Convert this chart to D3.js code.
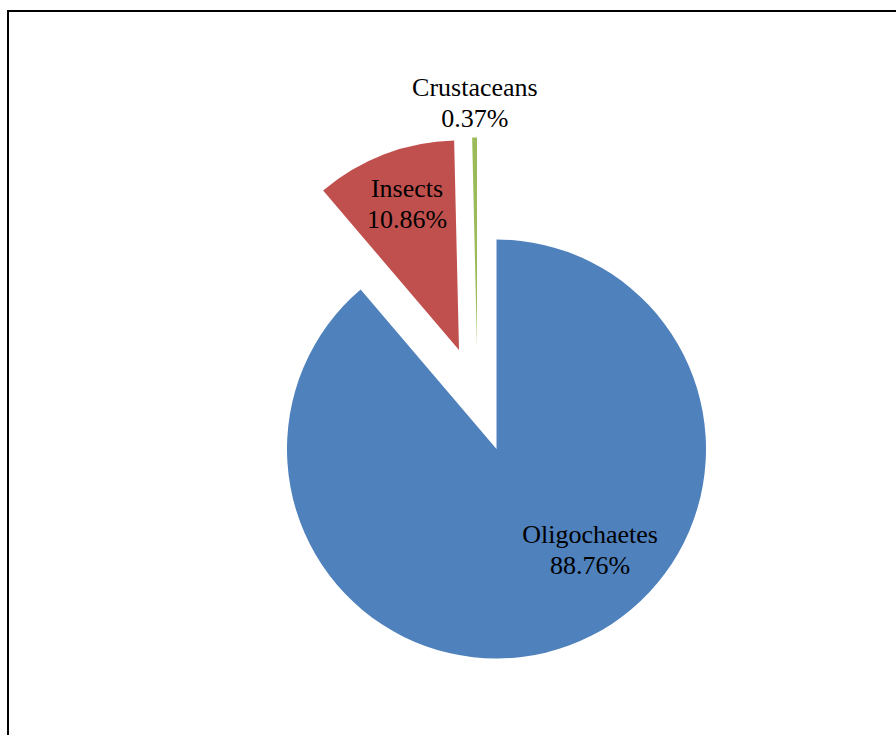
<!DOCTYPE html>
<html>
<head>
<meta charset="utf-8">
<script src="https://cdn.jsdelivr.net/npm/d3@7"></script>
<style>
  html, body { margin: 0; padding: 0; background: #fff; }
  svg { display: block; }
</style>
</head>
<body>
<script>
// ---- data ----
const categories = ["Oligochaetes", "Insects", "Crustaceans"];
const values = [88.76, 10.86, 0.37];
const percentLabels = ["88.76%", "10.86%", "0.37%"];

// ---- styles / layout ----
const colors = ["#4F81BD", "#C0504D", "#9BBB59"];
const W = 896, H = 735;
const cx = 496.5, cy = 449, R = 209.5;
// explode offsets (px) for each slice
const explodeOffsets = [[0, 0], [-37.5, -99], [-19.5, -102]];
// label placement (angle in degrees clockwise from 12 o'clock, radius as fraction of R), relative to slice apex
const labelPolar = [[137, 0.655], [340.4, 0.74], [359.5, 1.165]];
const fontSize = 26, lineGap = 31;

const svg = d3.select("body").append("svg")
  .attr("width", W).attr("height", H);

svg.append("rect").attr("width", W).attr("height", H).attr("fill", "#fff");

// chart border (extends past right/bottom edges)
svg.append("rect")
  .attr("x", 8).attr("y", 11)
  .attr("width", W + 20).attr("height", H + 20)
  .attr("fill", "none").attr("stroke", "#000").attr("stroke-width", 2);

const pie = d3.pie().sort(null).value(d => d)
  .startAngle(0).endAngle(2 * Math.PI);
const arcs = pie(values);
const arc = d3.arc().innerRadius(0).outerRadius(R);

const g = svg.append("g").attr("transform", `translate(${cx},${cy})`);

const slices = g.selectAll("g.slice").data(arcs).enter().append("g")
  .attr("class", "slice")
  .attr("transform", (d, i) => `translate(${explodeOffsets[i][0]},${explodeOffsets[i][1]})`);

slices.append("path")
  .attr("d", arc)
  .attr("fill", (d, i) => colors[i]);

slices.each(function(d, i) {
  const a = labelPolar[i][0] * Math.PI / 180;
  const r = labelPolar[i][1] * R;
  const x = Math.sin(a) * r, y = -Math.cos(a) * r;
  const t = d3.select(this).append("text")
    .attr("text-anchor", "middle")
    .attr("font-family", "'Liberation Serif', 'Times New Roman', serif")
    .attr("font-size", fontSize)
    .attr("fill", "#000");
  t.append("tspan").attr("x", x).attr("y", y - lineGap / 2 + 9).text(categories[i]);
  t.append("tspan").attr("x", x).attr("y", y + lineGap / 2 + 9).text(percentLabels[i]);
});
</script>
</body>
</html>
